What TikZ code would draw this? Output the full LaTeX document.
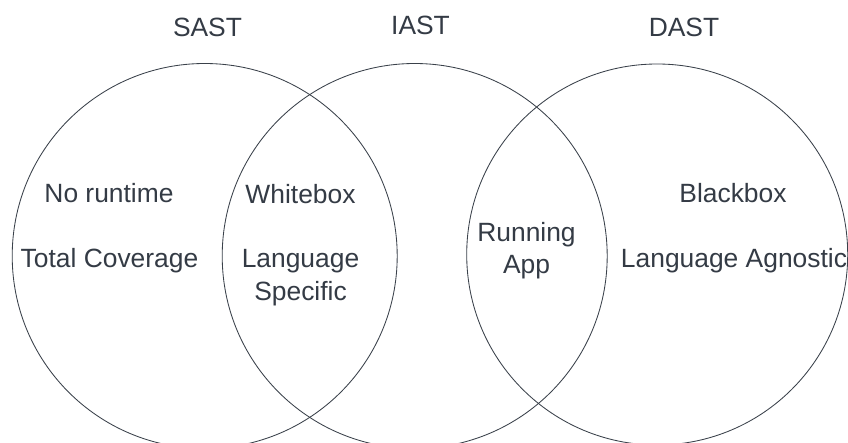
\documentclass[tikz,border=0pt]{standalone}
\usepackage{fontspec}
\setmainfont{Liberation Sans}
\definecolor{txtc}{HTML}{343B45}
\definecolor{linec}{HTML}{3A414A}
\tikzset{
  venn/.style={circle, draw=linec, line width=0.85pt, minimum size=385pt, inner sep=0pt, outer sep=0pt},
  venn2/.style={circle, draw=linec, line width=0.85pt, minimum size=381pt, inner sep=0pt, outer sep=0pt},
  lbl/.style={text=txtc, font=\fontsize{26.4}{32}\selectfont, anchor=base, inner sep=0pt}
}
\begin{document}
\begin{tikzpicture}[x=1pt,y=-1pt]
\clip (0,0) rectangle (848,443);
\fill[white] (0,0) rectangle (848,443);
\node[venn] (sastc) at (204.7,256) {};
\node[venn] (iastc) at (414.7,256) {};
\node[venn2] (dastc) at (657.2,254.5) {};
\node[lbl] (sast) at (207.5,36.5) {SAST};
\node[lbl] (iast) at (420.5,34.5) {IAST};
\node[lbl] (dast) at (684,36.5) {DAST};
\node[lbl] (norun) at (109,203) {No runtime};
\node[lbl] (total) at (109.5,268) {Total Coverage};
\node[lbl] (white) at (300.5,204) {Whitebox};
\node[lbl] (lang1) at (300.5,268) {Language};
\node[lbl] (lang2) at (300.5,301) {Specific};
\node[lbl] (run1) at (526.5,241.5) {Running};
\node[lbl] (run2) at (526.5,273.5) {App};
\node[lbl] (black) at (733,203) {Blackbox};
\node[lbl] (agn) at (734,268) {Language Agnostic};
\end{tikzpicture}
\end{document}
